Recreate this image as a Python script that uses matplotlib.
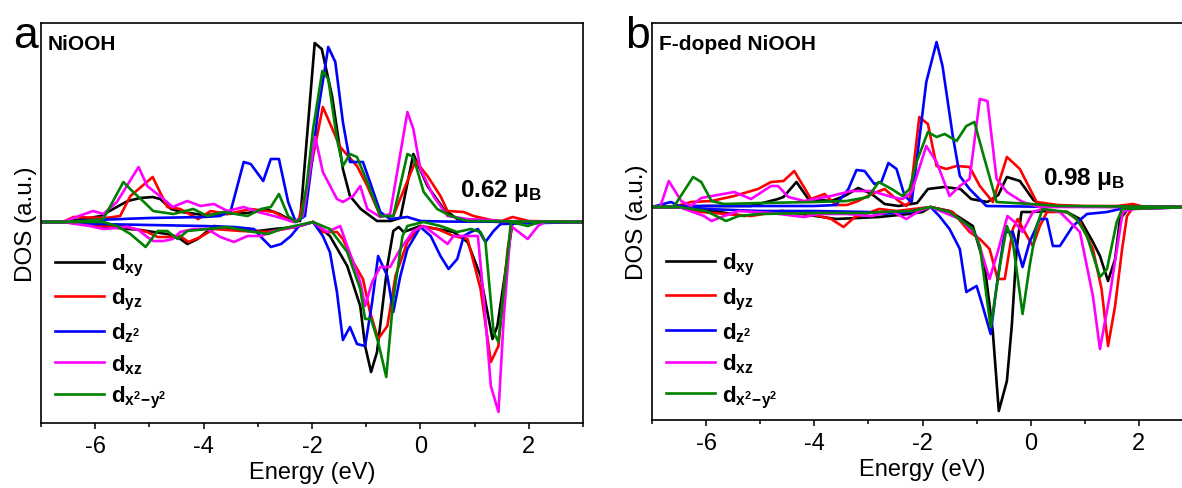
import matplotlib
matplotlib.use('Agg')
import matplotlib.pyplot as plt
from matplotlib.ticker import MultipleLocator

plt.rcParams['font.family'] = ['Liberation Sans', 'DejaVu Sans']
plt.rcParams['mathtext.fontset'] = 'custom'
plt.rcParams['mathtext.rm'] = 'Liberation Sans'
plt.rcParams['mathtext.it'] = 'Liberation Sans:italic'
plt.rcParams['mathtext.bf'] = 'Liberation Sans:bold'
plt.rcParams['axes.unicode_minus'] = False

# ---- panel a : NiOOH (spin up) ----
a_xy_up_E = [-7, -6.6, -6.2, -5.9, -5.67, -5.4, -5.17, -4.94, -4.8, -4.6, -4.4, -4.0, -3.6, -3.2, -2.8, -2.6, -2.4, -2.22, -1.95, -1.82, -1.63, -1.43, -1.3, -1.1, -0.8, -0.55, -0.37, -0.13, 0.13, 0.43, 0.68, 1.0, 1.5, 3]
a_xy_up = [0, 0, 0.15, 0.3, 0.65, 1.05, 1.2, 1.25, 1.15, 0.65, 0.5, 0.35, 0.4, 0.45, 0.6, 0.4, 0.1, 0.05, 8.95, 8.65, 6.3, 2.65, 1.3, 0.65, 0.05, 0.05, 0.2, 3.4, 1.8, 0.65, 0.15, 0.05, 0, 0]
a_yz_up_E = [-7, -6.6, -6.4, -5.8, -5.54, -5.35, -4.94, -4.67, -4.43, -4.1, -3.87, -3.56, -3.13, -2.7, -2.4, -2.25, -2.1, -1.8, -1.48, -1.17, -0.98, -0.74, -0.5, -0.09, 0.13, 0.37, 0.5, 0.8, 0.98, 1.3, 1.5, 1.7, 2.0, 3]
a_yz_up = [0, 0, 0.25, 0.2, 0.3, 1.3, 2.25, 0.75, 0.65, 0.15, 0.55, 0.4, 0.65, 0.5, 0.05, 0.05, 1.65, 5.75, 3.75, 2.8, 1.8, 0.3, 0.3, 3.05, 2.3, 1.3, 0.55, 0.5, 0.3, 0.1, 0.05, 0.25, 0.05, 0]
a_z2_up_E = [-7, -6.6, -6.0, -5.0, -4.0, -3.7, -3.5, -3.26, -3.13, -2.9, -2.76, -2.61, -2.44, -2.3, -2.13, -2.04, -1.89, -1.7, -1.57, -1.43, -1.3, -1.06, -0.93, -0.74, -0.56, -0.24, 0.0, 0.5, 3]
a_z2_up = [0, 0, 0.1, 0.2, 0.25, 0.3, 0.55, 3.0, 2.9, 2.05, 3.15, 3.15, 1.0, 0.0, 0.3, 2.15, 5.5, 8.75, 8.0, 5.0, 3.0, 3.0, 2.0, 0.5, 0.15, 0.25, 0.05, 0.02, 0]
a_xz_up_E = [-7, -6.6, -6.3, -6.04, -5.85, -5.6, -5.2, -5.04, -4.74, -4.57, -4.3, -4.06, -3.81, -3.56, -3.26, -3.0, -2.7, -2.33, -2.17, -1.94, -1.8, -1.54, -1.43, -1.24, -1.11, -0.98, -0.74, -0.56, -0.24, -0.13, 0.0, 0.24, 0.5, 0.87, 1.2, 1.5, 3]
a_xz_up = [0, 0, 0.3, 0.55, 0.4, 1.0, 2.75, 1.8, 1.15, 0.75, 1.05, 0.8, 0.9, 0.55, 0.75, 0.5, 0.3, 0.0, 0.3, 4.25, 2.5, 1.15, 1.0, 1.3, 1.8, 0.65, 0.25, 0.4, 5.5, 4.65, 2.65, 1.3, 0.3, 0.15, 0.1, 0.05, 0]
a_x2y2_up_E = [-7, -6.6, -6.2, -5.85, -5.48, -5.3, -5.1, -4.93, -4.56, -4.19, -3.93, -3.63, -3.19, -2.94, -2.76, -2.61, -2.44, -2.3, -2.2, -2.1, -1.98, -1.81, -1.7, -1.54, -1.43, -1.3, -1.17, -0.98, -0.74, -0.5, -0.24, -0.13, 0.06, 0.31, 0.56, 0.87, 3]
a_x2y2_up = [0, 0, 0.05, 0.15, 2.0, 1.5, 1.0, 0.55, 0.4, 0.65, 0.3, 0.5, 0.3, 0.65, 0.75, 1.4, 0.3, 0.0, 0.2, 1.8, 4.65, 7.55, 7.15, 4.15, 2.8, 3.4, 3.25, 2.0, 0.3, 0.3, 3.4, 3.25, 1.5, 0.65, 0.3, 0.05, 0]

# ---- panel a : NiOOH (spin down) ----
a_xy_dn_E = [-7, -6.6, -6.2, -5.78, -5.17, -4.67, -4.48, -4.3, -4.11, -3.81, -3.31, -3.0, -2.7, -2.3, -1.98, -1.67, -1.35, -1.11, -1.02, -0.91, -0.8, -0.61, -0.5, -0.4, -0.31, 0.0, 0.31, 0.61, 0.87, 1.11, 1.33, 1.42, 1.54, 1.7, 3]
a_xy_dn = [0, 0, -0.1, -0.25, -0.4, -0.6, -0.75, -1.1, -0.85, -0.2, -0.35, -0.45, -0.35, -0.25, 0, -0.7, -2.2, -4.2, -6.2, -7.5, -6.5, -2.2, -0.45, -0.25, -0.5, -0.2, -0.35, -0.5, -1.0, -2.7, -5.85, -5.2, -3.0, 0, 0]
a_yz_dn_E = [-7, -6.6, -6.2, -5.9, -5.48, -5.04, -4.85, -4.67, -4.43, -4.28, -4.06, -3.81, -3.31, -2.81, -2.3, -1.98, -1.8, -1.54, -1.43, -1.24, -1.06, -0.93, -0.78, -0.61, -0.46, -0.24, 0.0, 0.31, 0.61, 0.87, 1.11, 1.3, 1.44, 1.61, 1.7, 3]
a_yz_dn = [0, 0, -0.1, -0.2, -0.2, -0.5, -0.75, -0.75, -0.7, -1.0, -0.75, -0.35, -0.45, -0.5, -0.25, 0, -0.5, -0.5, -0.85, -2.0, -2.85, -4.5, -5.85, -5.2, -2.7, -1.0, -0.2, -0.35, -0.7, -0.85, -3.35, -7.0, -6.2, -1.35, 0, 0]
a_z2_dn_E = [-7, -6.6, -6.0, -5.0, -4.0, -3.44, -3.07, -2.94, -2.76, -2.57, -2.39, -2.24, -1.98, -1.8, -1.67, -1.54, -1.43, -1.3, -1.17, -1.02, -0.89, -0.78, -0.61, -0.5, -0.37, -0.24, 0.0, 0.19, 0.37, 0.52, 0.68, 0.8, 0.93, 1.06, 1.2, 1.35, 1.48, 3]
a_z2_dn = [0, 0, -0.1, -0.15, -0.2, -0.25, -0.35, -0.75, -1.25, -1.1, -0.7, -0.2, 0, -0.7, -1.5, -3.5, -5.9, -5.25, -6.1, -6.2, -4.0, -1.7, -2.7, -4.5, -2.7, -1.35, -0.25, -0.7, -1.7, -2.35, -1.85, -0.7, -0.5, -0.35, -1.0, -0.45, -0.1, 0]
a_xz_dn_E = [-7, -6.6, -6.1, -5.85, -5.4, -5.2, -5.04, -4.93, -4.74, -4.57, -4.43, -4.19, -3.93, -3.69, -3.44, -3.19, -2.94, -2.7, -2.33, -1.98, -1.72, -1.48, -1.35, -1.24, -1.11, -1.02, -0.89, -0.74, -0.56, -0.37, -0.13, 0.06, 0.31, 0.5, 0.61, 0.8, 1.06, 1.17, 1.3, 1.44, 1.54, 1.67, 1.98, 2.17, 2.3, 3]
a_xz_dn = [0, 0, -0.2, -0.35, -0.25, -0.4, -0.75, -0.95, -0.95, -0.85, -0.5, -0.35, -0.35, -0.75, -1.0, -0.7, -0.7, -0.45, -0.25, 0, -0.5, -0.2, -1.2, -2.0, -3.0, -4.2, -3.0, -2.25, -2.25, -1.35, -0.45, -0.2, -0.7, -1.1, -0.7, -0.7, -0.7, -3.85, -8.2, -9.5, -4.7, -0.2, -0.85, -0.2, 0, 0]
a_x2y2_dn_E = [-7, -6.6, -5.85, -5.6, -5.35, -5.07, -4.85, -4.67, -4.48, -4.3, -3.93, -3.56, -3.19, -2.81, -2.57, -2.33, -1.98, -1.67, -1.35, -1.11, -1.02, -0.91, -0.78, -0.63, -0.5, -0.33, -0.24, 0.06, 0.37, 0.68, 0.93, 1.11, 1.2, 1.35, 1.44, 1.67, 1.98, 2.2, 3]
a_x2y2_dn = [0, 0, 0, -0.2, -0.6, -1.25, -0.45, -0.45, -0.85, -0.45, -0.35, -0.25, -0.45, -0.6, -0.35, -0.2, 0, -0.35, -1.5, -3.35, -4.85, -4.85, -6.0, -7.75, -3.85, -0.7, -0.2, 0, -0.2, -0.5, -0.35, -0.5, -1.0, -5.5, -6.0, 0, -0.2, 0, 0]

# ---- panel b : F-doped NiOOH (spin up) ----
b_xy_up_E = [-7, -6.5, -6.0, -5.5, -5.17, -4.67, -4.57, -4.33, -4.11, -3.69, -3.44, -3.19, -2.94, -2.7, -2.44, -2.1, -1.9, -1.6, -1.3, -1.1, -0.8, -0.6, -0.44, -0.2, 0.05, 0.2, 0.5, 3]
b_xy_up = [0, 0, 0.05, 0.05, 0.05, 0.4, 0.5, 1.25, 0.4, 0.3, 0.55, 0.95, 0.65, 0.15, 0.05, 0.2, 0.9, 1.0, 0.9, 0.4, 0.25, 0.6, 1.5, 1.3, 0.35, 0.1, 0.02, 0]
b_yz_up_E = [-7, -6.6, -6.28, -5.9, -5.48, -5.04, -4.8, -4.57, -4.37, -4.06, -3.81, -3.6, -3.4, -3.19, -2.94, -2.7, -2.44, -2.3, -2.24, -2.06, -1.9, -1.74, -1.56, -1.37, -1.13, -0.94, -0.7, -0.44, -0.2, 0.11, 0.5, 1.0, 1.6, 1.89, 2.1, 3]
b_yz_up = [0, 0, 0.25, 0.3, 0.55, 0.9, 1.25, 1.3, 1.8, 0.4, 0.65, 0.1, 0.1, 0.3, 0.65, 0.9, 0.3, 0.05, 0.25, 4.5, 4.15, 2.05, 1.9, 2.05, 2.0, 1.05, 0.25, 2.5, 1.9, 0.25, 0.1, 0.05, 0.05, 0.15, 0.0, 0]
b_z2_up_E = [-7, -6.65, -6.5, -6.0, -5.0, -4.0, -3.6, -3.37, -3.22, -3.07, -2.89, -2.76, -2.63, -2.48, -2.33, -2.2, -1.93, -1.74, -1.63, -1.44, -1.31, -1.13, -0.82, 0.0, 3]
b_z2_up = [0, 0.25, 0.05, 0.05, 0.05, 0.05, 0.1, 0.9, 1.85, 1.8, 1.15, 1.25, 2.2, 1.9, 0.55, 0.25, 6.25, 8.25, 7.05, 3.55, 1.55, 0.9, 0.05, 0.02, 0]
b_xz_up_E = [-7, -6.85, -6.69, -6.46, -6.28, -6.09, -5.48, -5.17, -4.8, -4.67, -4.48, -4.19, -3.69, -3.31, -2.94, -2.57, -2.37, -2.2, -1.93, -1.74, -1.5, -1.31, -1.13, -0.94, -0.8, -0.63, -0.44, -0.15, 0.17, 3]
b_xz_up = [0, 0, 1.3, 0.3, 0.05, 0.45, 0.75, 0.4, 1.05, 1.05, 0.5, 0.3, 0.55, 0.8, 0.8, 0.5, 0.4, 0.75, 3.05, 2.25, 0.55, 1.05, 1.4, 5.4, 5.3, 1.4, 0.75, 0.25, 0.0, 0]
b_x2y2_up_E = [-7, -6.6, -6.24, -6.09, -5.9, -5.67, -5.0, -4.0, -3.4, -3.0, -2.81, -2.57, -2.37, -2.24, -2.11, -1.9, -1.74, -1.59, -1.37, -1.19, -1.04, -0.89, -0.63, 0.0, 0.5, 3]
b_x2y2_up = [0, 0.0, 1.5, 1.25, 0.3, 0.15, 0.2, 0.25, 0.3, 0.5, 1.25, 0.9, 0.55, 0.9, 2.25, 3.75, 3.5, 3.65, 3.3, 4.05, 4.25, 2.75, 0.25, 0.15, 0.05, 0]

# ---- panel b : F-doped NiOOH (spin down) ----
b_xy_dn_E = [-7, -6.5, -6.09, -5.3, -4.6, -3.6, -2.8, -2.26, -2.0, -1.85, -1.5, -1.07, -0.85, -0.7, -0.59, -0.44, -0.35, -0.26, -0.17, 0.04, 0.3, 0.67, 0.91, 1.15, 1.28, 1.43, 1.56, 1.65, 1.8, 3]
b_xy_dn = [0, 0, -0.1, -0.45, -0.2, -0.6, -0.5, -0.35, -0.25, 0, -0.2, -0.95, -2.95, -6.25, -10.2, -8.7, -5.95, -2.1, -0.25, -0.25, -0.2, -0.25, -0.6, -1.75, -2.45, -3.7, -2.6, -0.6, -0.1, 0]
b_yz_dn_E = [-7, -6.5, -6.09, -5.17, -4.6, -4.06, -3.69, -3.46, -3.25, -3.06, -2.8, -2.48, -1.85, -1.44, -1.13, -0.94, -0.76, -0.61, -0.48, -0.33, -0.24, -0.07, 0.04, 0.17, 0.3, 0.67, 0.91, 1.15, 1.31, 1.43, 1.56, 1.69, 1.78, 1.9, 3]
b_yz_dn = [0, 0, -0.25, -0.45, -0.2, -0.35, -0.6, -1.0, -0.5, -0.35, -0.1, -0.2, 0, -0.25, -1.25, -1.6, -2.1, -3.6, -3.6, -1.1, -0.6, -1.45, -1.95, -0.95, -0.25, -0.25, -0.75, -2.1, -4.1, -6.95, -4.95, -2.1, -0.45, 0, 0]
b_z2_dn_E = [-7, -6.5, -6.0, -5.0, -4.0, -3.0, -2.8, -2.24, -1.85, -1.69, -1.5, -1.31, -1.19, -1.0, -0.91, -0.74, -0.63, -0.48, -0.33, -0.15, -0.02, 0.17, 0.3, 0.41, 0.54, 0.78, 1.04, 1.41, 1.65, 3]
b_z2_dn = [0, 0, -0.1, -0.2, -0.2, -0.25, -0.35, -0.25, 0, -0.45, -1.1, -2.1, -4.25, -3.95, -4.75, -6.35, -3.95, -1.25, -1.25, -3.0, -1.75, -0.6, -0.6, -1.95, -1.95, -0.95, -0.35, -0.25, -0.1, 0]
b_xz_dn_E = [-7, -6.5, -6.04, -5.9, -5.67, -5.4, -4.8, -4.19, -3.93, -3.4, -2.94, -2.57, -2.3, -2.06, -1.85, -1.31, -1.0, -0.76, -0.61, -0.43, -0.3, -0.15, 0.04, 0.22, 0.54, 0.91, 1.15, 1.28, 1.46, 1.7, 1.9, 3]
b_xz_dn = [0, 0, -0.45, -0.7, -0.45, -0.2, -0.3, -0.5, -0.35, -0.35, -0.45, -0.2, -0.6, -0.2, 0, -0.6, -1.45, -3.6, -2.25, -0.45, -0.75, -1.25, -0.25, -0.1, -0.25, -1.25, -4.45, -7.1, -4.45, -0.25, -0.1, 0]
b_x2y2_dn_E = [-7, -6.5, -6.0, -5.63, -5.4, -5.0, -4.0, -3.0, -2.8, -2.2, -1.85, -1.5, -1.07, -0.94, -0.74, -0.57, -0.44, -0.33, -0.15, -0.02, 0.11, 0.22, 0.67, 0.85, 1.04, 1.28, 1.41, 1.59, 1.69, 3]
b_x2y2_dn = [0, 0, -0.2, -0.7, -0.45, -0.35, -0.3, -0.3, -0.25, -0.2, 0, -0.25, -1.1, -1.95, -6.0, -2.95, -0.95, -1.75, -5.35, -2.95, -0.95, -0.1, -0.25, -0.6, -1.45, -3.5, -3.1, -0.75, -0.1, 0]

orbital_labels = [r'$\mathbf{d_{xy}}$', r'$\mathbf{d_{yz}}$', r'$\mathbf{d_{z^2}}$',
                  r'$\mathbf{d_{xz}}$', r'$\mathbf{d_{x^2\!-\!y^2}}$']
colors = ['black', '#ff0000', '#0000ff', '#ff00ff', '#008000']
panel_titles = ['NiOOH', 'F-doped NiOOH']
moments = ['0.62', '0.98']

a_up = [(a_xy_up_E, a_xy_up), (a_yz_up_E, a_yz_up), (a_z2_up_E, a_z2_up), (a_xz_up_E, a_xz_up), (a_x2y2_up_E, a_x2y2_up)]
a_dn = [(a_xy_dn_E, a_xy_dn), (a_yz_dn_E, a_yz_dn), (a_z2_dn_E, a_z2_dn), (a_xz_dn_E, a_xz_dn), (a_x2y2_dn_E, a_x2y2_dn)]
b_up = [(b_xy_up_E, b_xy_up), (b_yz_up_E, b_yz_up), (b_z2_up_E, b_z2_up), (b_xz_up_E, b_xz_up), (b_x2y2_up_E, b_x2y2_up)]
b_dn = [(b_xy_dn_E, b_xy_dn), (b_yz_dn_E, b_yz_dn), (b_z2_dn_E, b_z2_dn), (b_xz_dn_E, b_xz_dn), (b_x2y2_dn_E, b_x2y2_dn)]

W, H = 1182, 489
fig = plt.figure(figsize=(W / 100, H / 100), dpi=100)

# axes boxes in pixels: left, top, right, bottom
boxes = [(41, 24, 583, 424), (652, 24, 1193, 421)]
ylims = [(-10.05, 9.95), (-10.65, 9.2)]
legend_anchor = [(0.026, 0.428), (0.026, 0.425)]
moment_pos = [(0.773, 0.5675), (0.7227, 0.594)]
letters = [('a', 13), ('b', 625)]

for i, (ups, dns) in enumerate([(a_up, a_dn), (b_up, b_dn)]):
    l, t, r, b = boxes[i]
    ax = fig.add_axes([l / W, 1 - b / H, (r - l) / W, (b - t) / H])
    for k in range(5):
        ax.plot(ups[k][0], ups[k][1], color=colors[k], lw=1.9, label=orbital_labels[k])
        ax.plot(dns[k][0], dns[k][1], color=colors[k], lw=1.9)
    ax.set_xlim(-7, 3)
    ax.set_ylim(*ylims[i])
    ax.set_yticks([])
    ax.xaxis.set_major_locator(MultipleLocator(2))
    ax.xaxis.set_minor_locator(MultipleLocator(1))
    ax.tick_params(axis='x', which='major', direction='out', length=4.5, width=1.1,
                   labelsize=17, pad=4)
    ax.tick_params(axis='x', which='minor', direction='out', length=3, width=1.1)
    for s in ax.spines.values():
        s.set_linewidth(1.2)
    ax.set_xlabel('Energy (eV)', fontsize=17, labelpad=3)
    ax.set_ylabel('DOS (a.u.)', fontsize=17.5, labelpad=3)
    ax.text(0.013, 0.935, panel_titles[i], transform=ax.transAxes, fontsize=15,
            fontweight='bold', va='baseline')
    ax.text(moment_pos[i][0], moment_pos[i][1], moments[i] + r' μ$_\mathbf{B}$',
            transform=ax.transAxes, fontsize=17.5, fontweight='bold', va='baseline')
    ax.legend(loc='upper left', bbox_to_anchor=legend_anchor[i], frameon=False,
              fontsize=16, handlelength=2.2, handletextpad=0.3, labelspacing=0.37,
              borderaxespad=0, borderpad=0)
    fig.text(letters[i][1] / W, 1 - 48 / H, letters[i][0], fontsize=32, va='baseline')

fig.savefig('out.png', dpi=100)
